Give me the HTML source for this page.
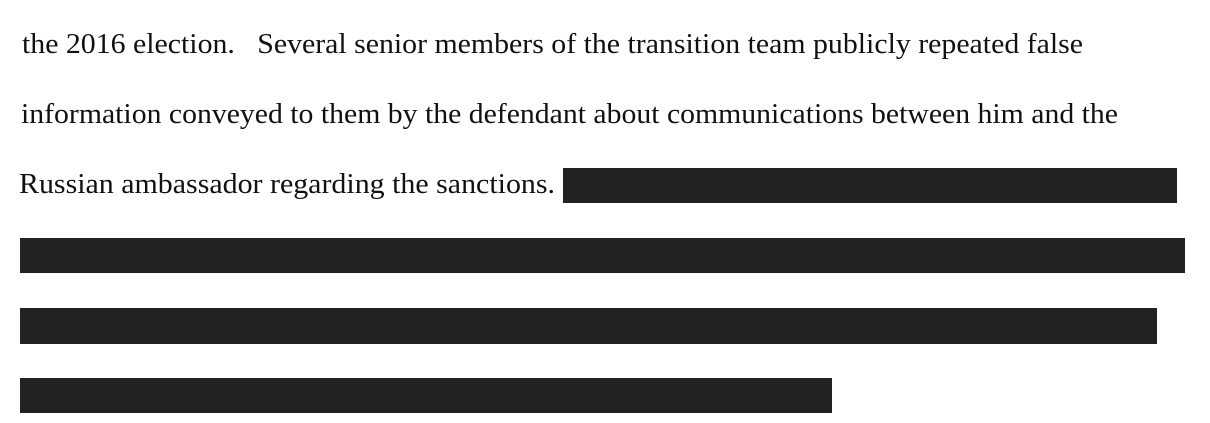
<!DOCTYPE html>
<html><head><style>
html,body{margin:0;padding:0;background:#fff;width:1210px;height:423px;overflow:hidden}
</style></head><body>
<svg width="1210" height="423" xmlns="http://www.w3.org/2000/svg">
<g font-family="Liberation Serif, serif" font-size="28" fill="#111">
<text x="22" y="53" textLength="1061" lengthAdjust="spacingAndGlyphs" xml:space="preserve">the 2016 election.   Several senior members of the transition team publicly repeated false</text>
<text x="21" y="123" textLength="1097" lengthAdjust="spacingAndGlyphs">information conveyed to them by the defendant about communications between him and the</text>
<text x="19" y="193" textLength="536" lengthAdjust="spacingAndGlyphs">Russian ambassador regarding the sanctions.</text>
</g>
<g fill="#222">
<rect x="563" y="168" width="614" height="35"/>
<rect x="20" y="238" width="1165" height="35"/>
<rect x="20" y="308" width="1137" height="36"/>
<rect x="20" y="378" width="812" height="35"/>
</g>
</svg>
</body></html>
